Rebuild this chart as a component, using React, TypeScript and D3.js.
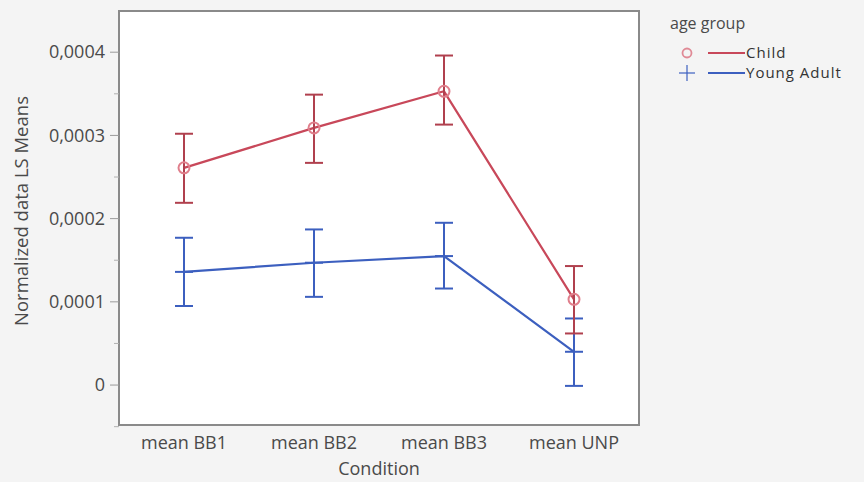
import React, { useEffect, useRef } from 'react';
import * as d3 from 'd3';

// Condition levels on the x axis
const conditions = ['mean BB1', 'mean BB2', 'mean BB3', 'mean UNP'];

// LS means with the lower / upper ends of the error bars
const childMean = [0.000261, 0.000309, 0.000353, 0.000103];
const childLow = [0.000219, 0.000267, 0.000313, 0.000062];
const childHigh = [0.000302, 0.000349, 0.000396, 0.000143];

const adultMean = [0.000136, 0.000147, 0.000155, 0.00004];
const adultLow = [0.000095, 0.000106, 0.000116, -0.000001];
const adultHigh = [0.000177, 0.000187, 0.000195, 0.00008];

const yTicks = [0, 0.0001, 0.0002, 0.0003, 0.0004];
const yTickLabels = ['0', '0,0001', '0,0002', '0,0003', '0,0004'];
const yMinorTicks = [-0.00005, 0.00005, 0.00015, 0.00025, 0.00035];

const RED = '#c8485a';
const RED_BAR = '#b0404e';
const BLUE = '#3c5fbf';
const FONT = "'Open Sans', sans-serif";
const TEXT = '#4a4a4a';

export default function App() {
  const ref = useRef<SVGSVGElement>(null);

  useEffect(() => {
    const svg = d3.select(ref.current);
    svg.selectAll('*').remove();

    const frame = { left: 119, top: 11, right: 639, bottom: 425 };

    const x = d3.scaleBand()
      .domain(conditions)
      .range([frame.left, frame.right]);

    const y = d3.scaleLinear()
      .domain([-0.000048, 0.0004495])
      .range([frame.bottom, frame.top]);

    svg.append('rect')
      .attr('width', 864).attr('height', 482)
      .attr('fill', '#f4f4f4');

    svg.append('rect')
      .attr('x', frame.left).attr('y', frame.top)
      .attr('width', frame.right - frame.left)
      .attr('height', frame.bottom - frame.top)
      .attr('fill', '#ffffff')
      .attr('stroke', '#8a8a8a')
      .attr('stroke-width', 2);

    // y axis ticks and labels
    const yAxis = svg.append('g');
    yAxis.selectAll('line.major')
      .data(yTicks)
      .enter().append('line')
      .attr('x1', frame.left - 9).attr('x2', frame.left)
      .attr('y1', (d) => y(d)).attr('y2', (d) => y(d))
      .attr('stroke', '#9a9a9a').attr('stroke-width', 1);
    yAxis.selectAll('line.minor')
      .data(yMinorTicks)
      .enter().append('line')
      .attr('x1', frame.left - 5).attr('x2', frame.left)
      .attr('y1', (d) => y(d)).attr('y2', (d) => y(d))
      .attr('stroke', '#b0b0b0').attr('stroke-width', 1);
    yAxis.selectAll('text')
      .data(yTicks)
      .enter().append('text')
      .attr('x', frame.left - 14)
      .attr('y', (d) => y(d))
      .attr('dy', '0.35em')
      .attr('text-anchor', 'end')
      .attr('font-family', FONT).attr('font-size', 18)
      .attr('fill', TEXT)
      .text((d, i) => yTickLabels[i]);

    svg.append('text')
      .attr('transform', `translate(22, 211) rotate(-90)`)
      .attr('dy', '0.35em')
      .attr('text-anchor', 'middle')
      .attr('font-family', FONT).attr('font-size', 18.5)
      .attr('fill', TEXT)
      .text('Normalized data LS Means');

    // x axis labels
    svg.append('g').selectAll('text')
      .data(conditions)
      .enter().append('text')
      .attr('x', (d) => x(d)! + x.bandwidth() / 2)
      .attr('y', 443)
      .attr('dy', '0.35em')
      .attr('text-anchor', 'middle')
      .attr('font-family', FONT).attr('font-size', 18)
      .attr('fill', TEXT)
      .text((d) => d);

    svg.append('text')
      .attr('x', (frame.left + frame.right) / 2)
      .attr('y', 469)
      .attr('dy', '0.35em')
      .attr('text-anchor', 'middle')
      .attr('font-family', FONT).attr('font-size', 18)
      .attr('fill', TEXT)
      .text('Condition');

    const cx = (i: number) => x(conditions[i])! + x.bandwidth() / 2;
    const line = d3.line<number>()
      .x((d, i) => cx(i))
      .y((d) => y(d));

    const series = [
      { mean: adultMean, low: adultLow, high: adultHigh, color: BLUE, bar: BLUE, marker: 'plus' },
      { mean: childMean, low: childLow, high: childHigh, color: RED, bar: RED_BAR, marker: 'circle' },
    ];

    series.forEach((s) => {
      const g = svg.append('g');
      g.append('path')
        .datum(s.mean)
        .attr('d', line)
        .attr('fill', 'none')
        .attr('stroke', s.color)
        .attr('stroke-width', 2.2);

      const bars = g.selectAll('g.bar')
        .data(s.mean)
        .enter().append('g');
      bars.append('line')
        .attr('x1', (d, i) => cx(i)).attr('x2', (d, i) => cx(i))
        .attr('y1', (d, i) => y(s.low[i])).attr('y2', (d, i) => y(s.high[i]))
        .attr('stroke', s.bar).attr('stroke-width', 2);
      bars.append('line')
        .attr('x1', (d, i) => cx(i) - 9).attr('x2', (d, i) => cx(i) + 9)
        .attr('y1', (d, i) => y(s.low[i])).attr('y2', (d, i) => y(s.low[i]))
        .attr('stroke', s.bar).attr('stroke-width', 2);
      bars.append('line')
        .attr('x1', (d, i) => cx(i) - 9).attr('x2', (d, i) => cx(i) + 9)
        .attr('y1', (d, i) => y(s.high[i])).attr('y2', (d, i) => y(s.high[i]))
        .attr('stroke', s.bar).attr('stroke-width', 2);

      if (s.marker === 'circle') {
        bars.append('circle')
          .attr('cx', (d, i) => cx(i)).attr('cy', (d) => y(d))
          .attr('r', 5.5)
          .attr('fill', 'none')
          .attr('stroke', '#e07f8c').attr('stroke-width', 2);
      } else {
        bars.append('line')
          .attr('x1', (d, i) => cx(i) - 9).attr('x2', (d, i) => cx(i) + 9)
          .attr('y1', (d) => y(d)).attr('y2', (d) => y(d))
          .attr('stroke', s.color).attr('stroke-width', 2);
      }
    });

    // legend
    const legend = svg.append('g');
    legend.append('text')
      .attr('x', 670).attr('y', 23).attr('dy', '0.35em')
      .attr('font-family', FONT).attr('font-size', 16)
      .attr('fill', TEXT)
      .text('age group');

    legend.append('circle')
      .attr('cx', 687).attr('cy', 53).attr('r', 4.5)
      .attr('fill', 'none').attr('stroke', '#e08a96').attr('stroke-width', 1.8);
    legend.append('line')
      .attr('x1', 708).attr('x2', 745).attr('y1', 53).attr('y2', 53)
      .attr('stroke', RED).attr('stroke-width', 2.2);
    legend.append('text')
      .attr('x', 746).attr('y', 53).attr('dy', '0.35em')
      .attr('font-family', FONT).attr('font-size', 15)
      .attr('letter-spacing', 1)
      .attr('fill', '#333')
      .text('Child');

    legend.append('line')
      .attr('x1', 679).attr('x2', 695).attr('y1', 73).attr('y2', 73)
      .attr('stroke', BLUE).attr('stroke-width', 1.2);
    legend.append('line')
      .attr('x1', 687).attr('x2', 687).attr('y1', 65).attr('y2', 81)
      .attr('stroke', BLUE).attr('stroke-width', 1.2);
    legend.append('line')
      .attr('x1', 708).attr('x2', 745).attr('y1', 73).attr('y2', 73)
      .attr('stroke', BLUE).attr('stroke-width', 2.2);
    legend.append('text')
      .attr('x', 746).attr('y', 73).attr('dy', '0.35em')
      .attr('font-family', FONT).attr('font-size', 15)
      .attr('letter-spacing', 1)
      .attr('fill', '#333')
      .text('Young Adult');
  }, []);

  return (
    <>
      <style>{'body { margin: 0; }'}</style>
      <svg ref={ref} width={864} height={482} style={{ display: 'block' }} />
    </>
  );
}
